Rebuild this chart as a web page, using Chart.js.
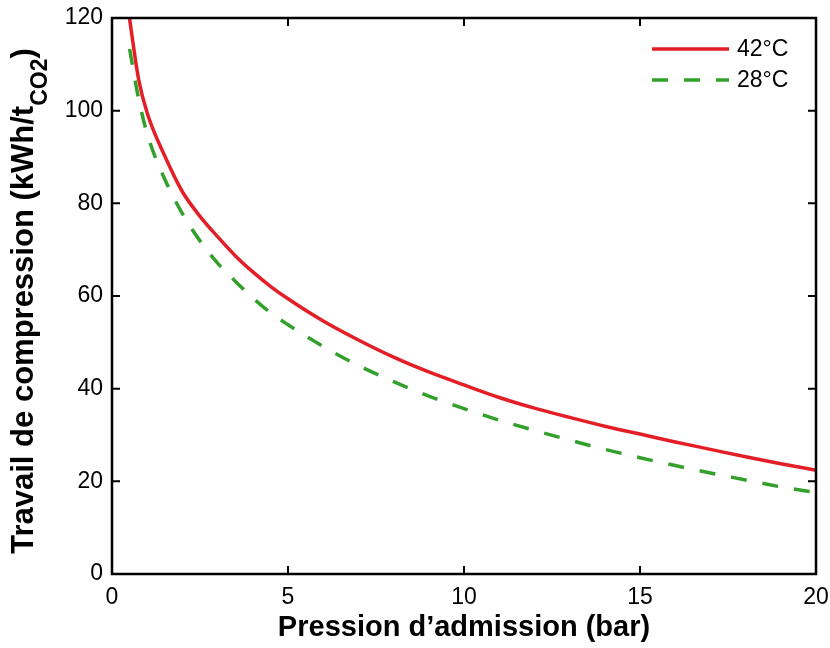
<!DOCTYPE html>
<html>
<head>
<meta charset="utf-8">
<script src="https://cdn.jsdelivr.net/npm/chart.js@4/dist/chart.umd.min.js"></script>
<style>
  html, body { margin: 0; padding: 0; background: #ffffff; }
  #wrap { width: 830px; height: 648px; position: relative; }
</style>
</head>
<body>
<div id="wrap"><canvas id="c" width="830" height="648"></canvas></div>
<script>
// ---- Data ----
const pressure = [0.5, 0.75, 1, 1.5, 2, 2.5, 3, 3.5, 4, 4.5, 5, 6, 7, 8, 9, 10, 11, 12, 13, 14, 15, 16, 17, 18, 19, 20];
const work42 = [119.8, 107, 99.5, 90.2, 82.5, 77.2, 72.8, 68.7, 65.2, 62.1, 59.4, 54.6, 50.5, 46.8, 43.6, 40.8, 38.1, 35.8, 33.8, 31.9, 30.2, 28.5, 26.9, 25.3, 23.8, 22.4];
const work28 = [113.3, 102.8, 95, 85.2, 77.8, 71.9, 67.1, 63.2, 59.6, 56.4, 53.8, 49.1, 45, 41.5, 38.4, 35.7, 33.2, 31, 28.9, 26.9, 25.1, 23.4, 21.8, 20.3, 18.8, 17.6];
const seriesLabels = ['42°C', '28°C'];
const xTicks = [0, 5, 10, 15, 20];
const yTicks = [0, 20, 40, 60, 80, 100, 120];
const xTitle = 'Pression d\u2019admission (bar)';
const yTitleMain = 'Travail de compression (kWh/t';
const yTitleSub = 'CO2';
const yTitleEnd = ')';

const RED = '#e41e26';
const GREEN = '#33a02c';
const FONT = '"Liberation Sans", Arial, Helvetica, sans-serif';

function toXY(xs, ys) { return xs.map((x, i) => ({ x: x, y: ys[i] })); }

const boxPlugin = {
  id: 'boxPlugin',
  afterDatasetsDraw(chart) {
    const ctx = chart.ctx;
    const a = chart.chartArea;
    const xs = chart.scales.x, ys = chart.scales.y;
    ctx.save();
    ctx.strokeStyle = '#000';
    ctx.lineWidth = 2.5;
    ctx.strokeRect(a.left, a.top, a.right - a.left, a.bottom - a.top);
    const tl = 8;
    ctx.lineWidth = 2;
    ctx.beginPath();
    xs.ticks.forEach(t => {
      const px = xs.getPixelForValue(t.value);
      ctx.moveTo(px, a.bottom); ctx.lineTo(px, a.bottom - tl);
      ctx.moveTo(px, a.top); ctx.lineTo(px, a.top + tl);
    });
    ys.ticks.forEach(t => {
      const py = ys.getPixelForValue(t.value);
      ctx.moveTo(a.left, py); ctx.lineTo(a.left + tl, py);
      ctx.moveTo(a.right, py); ctx.lineTo(a.right - tl, py);
    });
    ctx.stroke();

    // legend (inside, top-right)
    const ds = chart.data.datasets;
    ctx.font = '23px ' + FONT;
    ctx.textBaseline = 'middle';
    ctx.textAlign = 'left';
    const lx0 = 652, lx1 = 729, tx = 737;
    const rows = [49, 80];
    ds.forEach((d, i) => {
      ctx.beginPath();
      ctx.strokeStyle = d.borderColor;
      ctx.lineWidth = d.borderWidth;
      ctx.setLineDash(d.borderDash || []);
      ctx.moveTo(lx0, rows[i]); ctx.lineTo(lx1, rows[i]);
      ctx.stroke();
      ctx.setLineDash([]);
      ctx.fillStyle = '#000';
      ctx.fillText(d.label, tx, rows[i] + 1);
    });

    // y title with subscript
    const cx = 33, cy = 301;
    const fMain = 'bold 31px ' + FONT;
    const fSub = 'bold 23px ' + FONT;
    ctx.font = fMain; const w1 = ctx.measureText(yTitleMain).width; const w3 = ctx.measureText(yTitleEnd).width;
    ctx.font = fSub; const w2 = ctx.measureText(yTitleSub).width;
    const total = w1 + w2 + w3;
    ctx.translate(cx, cy);
    ctx.rotate(-Math.PI / 2);
    ctx.fillStyle = '#000';
    ctx.textBaseline = 'alphabetic';
    let x = -total / 2;
    ctx.font = fMain; ctx.fillText(yTitleMain, x, 0); x += w1;
    ctx.font = fSub; ctx.fillText(yTitleSub, x, 14); x += w2;
    ctx.font = fMain; ctx.fillText(yTitleEnd, x, 0);
    ctx.restore();
  }
};

new Chart(document.getElementById('c'), {
  type: 'line',
  data: {
    datasets: [
      { label: seriesLabels[0], data: toXY(pressure, work42), borderColor: RED, borderWidth: 3.5, pointRadius: 0, fill: false, cubicInterpolationMode: 'monotone' },
      { label: seriesLabels[1], data: toXY(pressure, work28), borderColor: GREEN, borderWidth: 3.5, borderDash: [16, 16], pointRadius: 0, fill: false, cubicInterpolationMode: 'monotone' }
    ]
  },
  options: {
    responsive: false,
    animation: false,
    clip: true,
    layout: { padding: { left: 0, right: 14, top: 18, bottom: 0 } },
    plugins: { legend: { display: false }, tooltip: { enabled: false } },
    scales: {
      x: {
        type: 'linear', min: 0, max: 20,
        afterBuildTicks(s) { s.ticks = xTicks.map(v => ({ value: v })); },
        afterFit(s) { s.height = 74; s.paddingLeft = 0; s.paddingRight = 0; },
        grid: { display: false, drawTicks: false },
        border: { display: false },
        ticks: { color: '#000', font: { family: FONT, size: 23 }, padding: 10, maxRotation: 0 },
        title: { display: true, text: xTitle, color: '#000', font: { family: FONT, size: 29, weight: 'bold' }, padding: { top: 0, bottom: 3 } }
      },
      y: {
        type: 'linear', min: 0, max: 120,
        afterBuildTicks(s) { s.ticks = yTicks.map(v => ({ value: v })); },
        afterFit(s) { s.width = 112; s.paddingTop = 0; s.paddingBottom = 0; },
        grid: { display: false, drawTicks: false },
        border: { display: false },
        ticks: { color: '#000', font: { family: FONT, size: 23 }, padding: 9 }
      }
    }
  },
  plugins: [boxPlugin]
});
</script>
</body>
</html>
